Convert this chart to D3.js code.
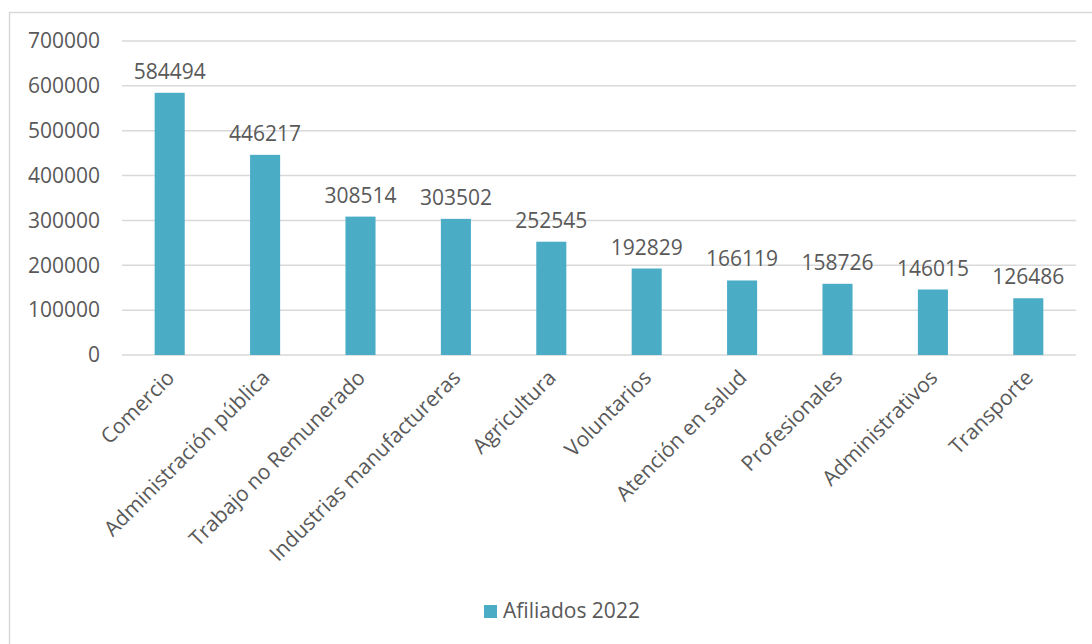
<!DOCTYPE html>
<html>
<head>
<meta charset="utf-8">
<script src="https://d3js.org/d3.v7.min.js"></script>
<style>
  body { margin: 0; background: #fff; }
  text { font-family: "Open Sans", sans-serif; fill: #595959; }
</style>
</head>
<body>
<svg width="1092" height="644"></svg>
<script>
// chart data
const categories = ['Comercio', 'Administración pública', 'Trabajo no Remunerado', 'Industrias manufactureras',
  'Agricultura', 'Voluntarios', 'Atención en salud', 'Profesionales', 'Administrativos', 'Transporte'];
const afiliados2022 = [584494, 446217, 308514, 303502, 252545, 192829, 166119, 158726, 146015, 126486];
const yTicks = [0, 100000, 200000, 300000, 400000, 500000, 600000, 700000];
const seriesName = 'Afiliados 2022';

const svg = d3.select('svg');
const barColor = '#4BACC6';
const fontSize = '21px';

// outer chart frame
svg.append('rect')
  .attr('x', 9.5).attr('y', 12.5)
  .attr('width', 1100).attr('height', 700)
  .attr('fill', 'none')
  .attr('stroke', '#d9d9d9')
  .attr('stroke-width', 1.5);

const xs = d3.scaleBand().domain(categories).range([122, 1076]).paddingInner(0.685).paddingOuter(0.3425);
const ys = d3.scaleLinear().domain([0, 700000]).range([355, 41]);

// gridlines
svg.append('g')
  .selectAll('line')
  .data(yTicks)
  .enter()
  .append('line')
    .attr('x1', 122).attr('x2', 1076)
    .attr('y1', d => ys(d)).attr('y2', d => ys(d))
    .attr('stroke', '#d9d9d9')
    .attr('stroke-width', 1.5);

// y axis labels
const yAxis = svg.append('g')
  .attr('transform', 'translate(122,0)')
  .call(d3.axisLeft(ys).tickValues(yTicks).tickFormat(d3.format('d')).tickSize(0).tickPadding(22));
yAxis.select('.domain').remove();
yAxis.selectAll('text')
  .style('font-family', '"Open Sans", sans-serif')
  .style('font-size', fontSize)
  .attr('fill', '#595959');

// bars
svg.append('g')
  .selectAll('rect')
  .data(afiliados2022)
  .enter()
  .append('rect')
    .attr('x', (d, i) => xs(categories[i]))
    .attr('y', d => ys(d))
    .attr('width', xs.bandwidth())
    .attr('height', d => ys(0) - ys(d))
    .attr('fill', barColor);

// data labels
svg.append('g')
  .selectAll('text')
  .data(afiliados2022)
  .enter()
  .append('text')
    .attr('x', (d, i) => xs(categories[i]) + xs.bandwidth() / 2)
    .attr('y', d => ys(d) - 14)
    .attr('text-anchor', 'middle')
    .style('font-size', fontSize)
    .text(d => d);

// category labels
const xAxis = svg.append('g')
  .attr('transform', 'translate(0,355)')
  .call(d3.axisBottom(xs).tickSize(0).tickPadding(0));
xAxis.select('.domain').remove();
xAxis.selectAll('text')
  .style('font-family', '"Open Sans", sans-serif')
  .style('font-size', fontSize)
  .attr('fill', '#595959')
  .attr('text-anchor', 'end')
  .attr('dy', 0)
  .attr('transform', 'translate(6,24) rotate(-45)');

// legend
const legend = svg.append('g').attr('transform', 'translate(484,605)');
legend.append('rect')
  .attr('width', 13).attr('height', 13)
  .attr('fill', barColor);
legend.append('text')
  .attr('x', 19).attr('y', 13)
  .style('font-size', fontSize)
  .text(seriesName);
</script>
</body>
</html>
